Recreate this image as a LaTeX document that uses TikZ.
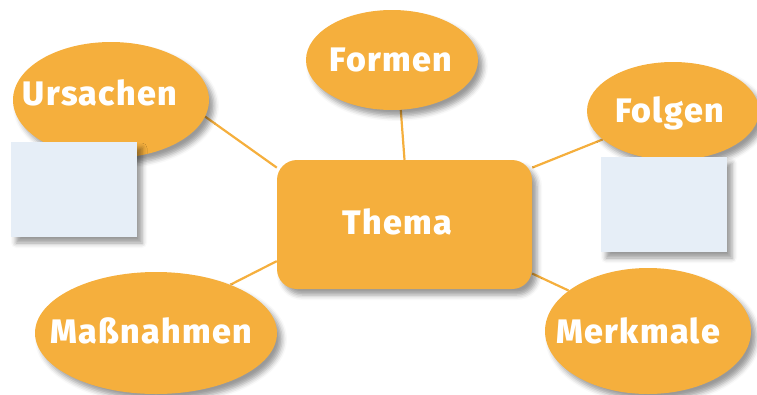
\documentclass[tikz,border=0pt]{standalone}
\usepackage{fontspec}
\setmainfont{Fira Sans}[BoldFont={Fira Sans ExtraBold}]
\usetikzlibrary{shapes.geometric,shadows.blur}
\definecolor{orng}{HTML}{F5AF3D}
\definecolor{pale}{HTML}{E6EEF7}
\pgfdeclarelayer{bg}
\pgfsetlayers{bg,main}
\begin{document}
\begin{tikzpicture}[x=1pt,y=-1pt,
  shd/.style={blur shadow={shadow xshift=5pt,shadow yshift=-6pt,shadow blur radius=5pt,shadow opacity=40}},
  bubble/.style={ellipse,fill=orng,inner sep=0pt,shd},
  topic/.style={rectangle,rounded corners=20pt,fill=orng,inner sep=0pt,shd,minimum width=255pt,minimum height=129pt},
  card/.style={rectangle,fill=pale,inner sep=0pt,shd},
  lbl/.style={anchor=base,text=white,font=\fontsize{34}{38}\selectfont\bfseries\addfontfeature{LetterSpace=4},inner sep=0pt},
  link/.style={draw=orng,line width=2.2pt}]
\useasboundingbox (0,0) rectangle (757,394);
% bubbles
\node[bubble,minimum width=196pt,minimum height=116pt] (urs) at (111,100) {};
\node[bubble,minimum width=172pt,minimum height=100pt] (form) at (392,60) {};
\node[bubble,minimum width=172pt,minimum height=98pt] (folg) at (673,111) {};
\node[bubble,minimum width=242pt,minimum height=122pt] (mass) at (156,333) {};
\node[bubble,minimum width=206pt,minimum height=126pt] (merk) at (648,331) {};
\node[topic] (thema) at (404.5,224.5) {};
% cards
\node[card,minimum width=126pt,minimum height=95pt] (cardl) at (74,189.5) {};
\node[card,minimum width=126pt,minimum height=95pt] (cardr) at (664,204.5) {};
% labels
\node[lbl] (tu) at (100,105) {Ursachen};
\node[lbl] (tf) at (391,71) {Formen};
\node[lbl] (tg) at (669.5,122) {Folgen};
\node[lbl] (tt) at (397.5,234) {Thema};
\node[lbl] (tm) at (151,343) {Maßnahmen};
\node[lbl] (tk) at (638,343) {Merkmale};
% connectors
\begin{pgfonlayer}{bg}
\draw[link] (urs.-10) -- (thema.156);
\draw[link] (form.-80) -- (thema.north);
\draw[link] (folg.-158) -- (thema.24);
\draw[link] (mass.33) -- (thema.196);
\draw[link] (merk.153) -- (thema.-21);
\end{pgfonlayer}
\end{tikzpicture}
\end{document}
